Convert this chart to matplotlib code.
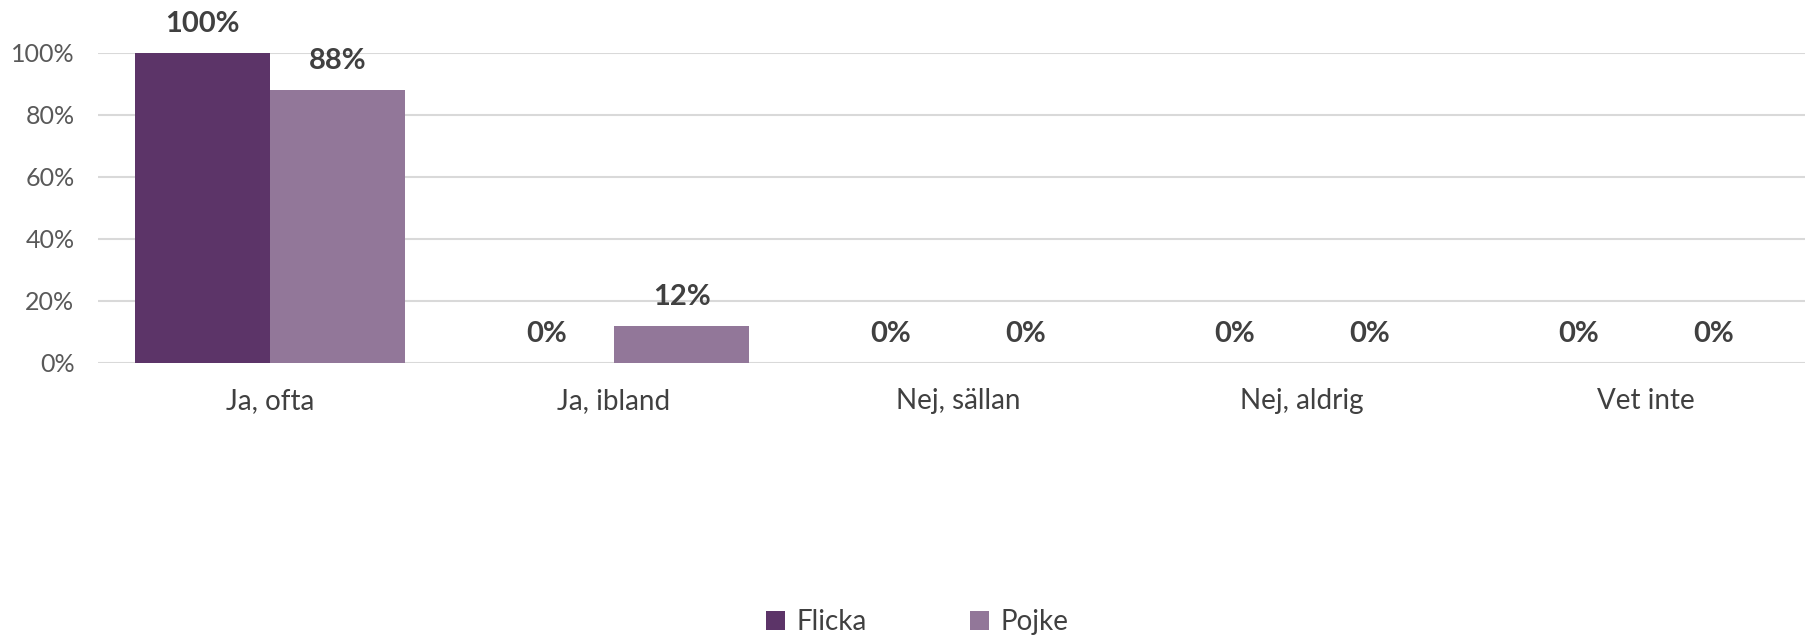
import numpy as np
import matplotlib.pyplot as plt

categories = ["Ja, ofta", "Ja, ibland", "Nej, sällan", "Nej, aldrig", "Vet inte"]
flicka = [100, 0, 0, 0, 0]
pojke = [88, 12, 0, 0, 0]
series_names = ["Flicka", "Pojke"]
colors = ["#5C3468", "#927799"]

plt.rcParams["font.family"] = ["Lato", "DejaVu Sans"]

W, H = 1806, 636
fig = plt.figure(figsize=(W / 100, H / 100), dpi=100)
# plot area runs a bit past the right image edge, like the source
ax = fig.add_axes([98 / W, (H - 363) / H, 1720 / W, 310 / H])

x = np.arange(len(categories))
bw = 0.393
bars = []
for i, (vals, name, col) in enumerate(zip([flicka, pojke], series_names, colors)):
    b = ax.bar(x + (i - 0.5) * bw, vals, bw, color=col, label=name, zorder=3)
    bars.append(b)
    for xi, v in zip(x + (i - 0.5) * bw, vals):
        ax.annotate(f"{v}%", (xi, v), xytext=(0, 21), textcoords="offset points",
                    ha="center", va="center", fontsize=21, fontweight="bold",
                    color="#404040", annotation_clip=False)

ax.set_xlim(-0.5, len(categories) - 0.5)
ax.set_ylim(0, 100)
ax.set_yticks(np.arange(0, 101, 20))
ax.set_yticklabels([f"{t}%" for t in range(0, 101, 20)], fontsize=18, color="#595959")
ax.set_xticks(x)
ax.set_xticklabels(categories, fontsize=20, color="#404040")
ax.tick_params(axis="both", length=0)
ax.tick_params(axis="y", pad=17)
ax.tick_params(axis="x", pad=18)
ax.grid(axis="y", color="#D9D9D9", linewidth=1.5, zorder=0)
for s in ax.spines.values():
    s.set_visible(False)

fig.legend(handles=bars, labels=series_names, loc="center", bbox_to_anchor=(917 / W, 1 - 622 / H),
           ncol=2, frameon=False, fontsize=20, labelcolor="#404040",
           handlelength=0.7, handleheight=0.7, handletextpad=0.4, columnspacing=3.7)

fig.savefig("out.png", dpi=100)
